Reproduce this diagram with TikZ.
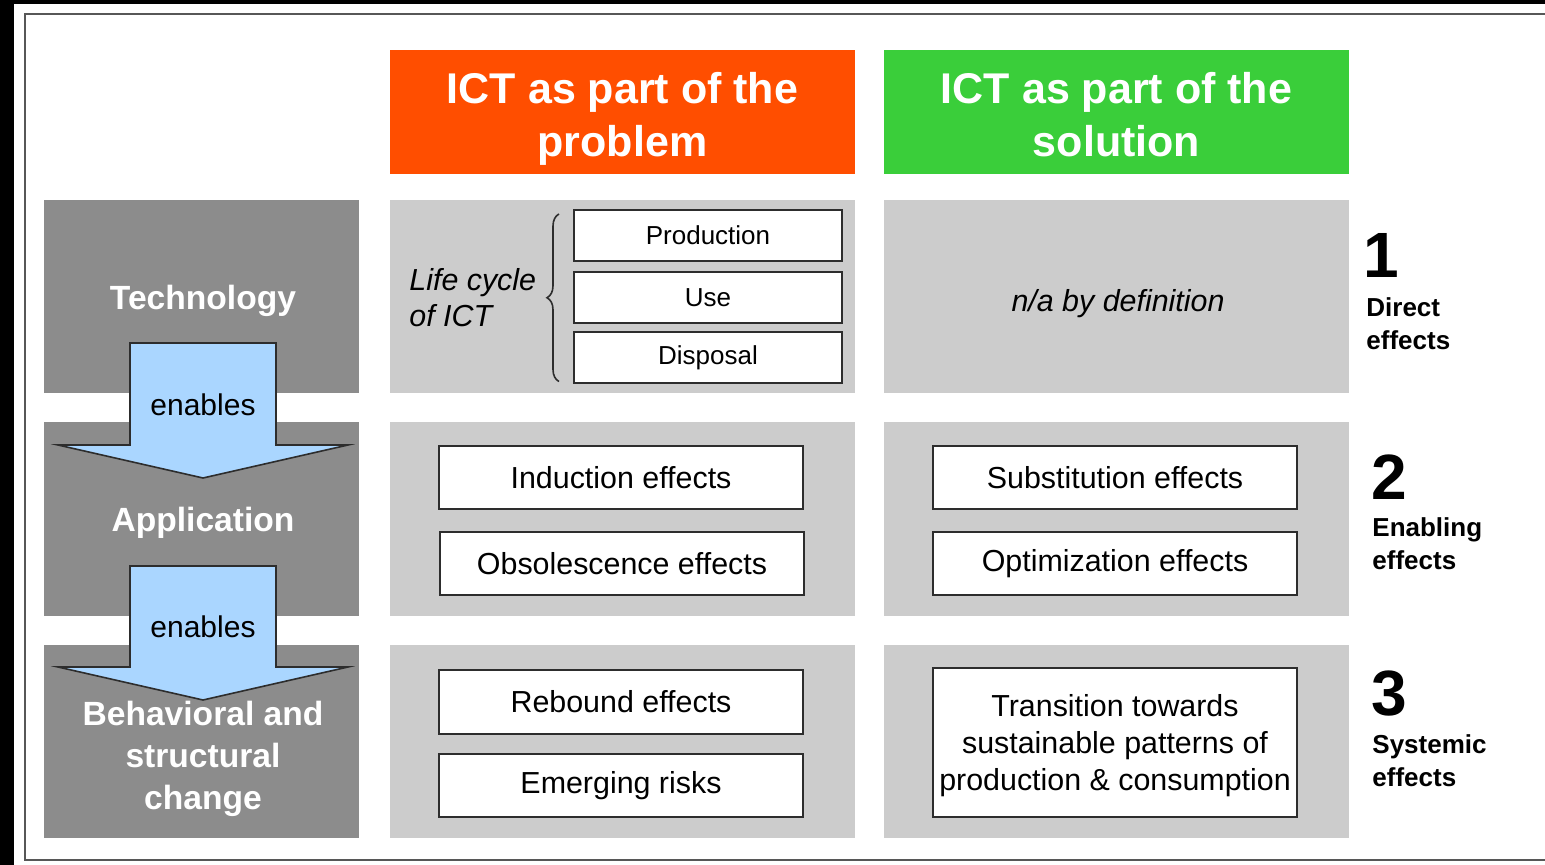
\documentclass[tikz,border=0pt]{standalone}
\usepackage{fontspec}
\setmainfont{Liberation Sans}
\usetikzlibrary{positioning,decorations.pathreplacing}

\definecolor{probred}{RGB}{255,78,0}
\definecolor{solgreen}{RGB}{58,206,58}
\definecolor{layergray}{RGB}{140,140,140}
\definecolor{cellgray}{RGB}{204,204,204}
\definecolor{arrowblue}{RGB}{170,214,255}
\definecolor{lineblack}{RGB}{45,45,45}

\tikzset{
  headbox/.style={minimum width=232.5pt, minimum height=62pt, inner sep=0pt},
  headtext/.style={inner sep=0pt, text=white, align=center,
    font=\fontsize{21.5}{26.5}\selectfont\bfseries,
    execute at begin node=\strut, execute at end node=\strut},
  layerbox/.style={fill=layergray, minimum width=157.5pt, minimum height=96.5pt, inner sep=0pt},
  layertext/.style={text=white, align=center, font=\fontsize{16.8}{21}\selectfont\bfseries},
  cellbox/.style={fill=cellgray, minimum width=232.5pt, minimum height=96.5pt, inner sep=0pt},
  effbox/.style={draw=lineblack, line width=1pt, fill=white, minimum width=182pt,
    minimum height=31.5pt, inner sep=0pt, align=center, font=\fontsize{15.2}{18.5}\selectfont},
  lcbox/.style={draw=lineblack, line width=1pt, fill=white, minimum width=134pt,
    minimum height=25.5pt, inner sep=0pt, font=\fontsize{13}{15}\selectfont},
  numtext/.style={inner sep=0pt, font=\fontsize{32}{36}\selectfont\bfseries},
  kindtext/.style={inner sep=0pt, anchor=north west, align=left,
    font=\fontsize{13}{16.5}\selectfont\bfseries},
  enablearrow/.style={draw=lineblack, line width=0.8pt, fill=arrowblue, line join=miter},
}

\begin{document}
\begin{tikzpicture}[x=0.5pt,y=-0.5pt]
\useasboundingbox (0,0) rectangle (1545,865);
% page and frame
\fill[black] (0,0) rectangle (1545,865);
\fill[white] (14,4) rectangle (1545,865);
\draw[line width=1pt, lineblack!80] (25,14) rectangle (1560,860);

% column heads
\node[headbox, fill=probred] (probhead) at (622.5,112) {};
\node[headtext] (probtext) at (622.5,122) {ICT as part of the\\problem};
\node[headbox, fill=solgreen] (solhead) at (1116.5,112) {};
\node[headtext] (soltext) at (1116.5,122) {ICT as part of the\\solution};

% layers
\node[layerbox] (tech) at (201.5,296.5) {};
\node[layerbox] (appl) at (201.5,519) {};
\node[layerbox] (behav) at (201.5,741.5) {};

% cells
\node[cellbox] (p1) at (622.5,296.5) {};
\node[cellbox] (p2) at (622.5,519) {};
\node[cellbox] (p3) at (622.5,741.5) {};
\node[cellbox] (s1) at (1116.5,296.5) {};
\node[cellbox] (s2) at (1116.5,519) {};
\node[cellbox] (s3) at (1116.5,741.5) {};

% layer labels
\node[layertext] (techtext) at (203,301) {Technology};
\node[layertext] (appltext) at (203,523) {Application};
\node[layertext] (behavtext) at (203,759) {Behavioral and\\structural\\change};

% enables arrows
\draw[enablearrow] (130,343) -- (276,343) -- (276,445) -- (348,445) -- (203,478)
  -- (58,445) -- (130,445) -- cycle;
\node[font=\fontsize{15}{18}\selectfont] (en1) at (203,405) {enables};
\draw[enablearrow] (130,566) -- (276,566) -- (276,667) -- (348,667) -- (203,700)
  -- (58,667) -- (130,667) -- cycle;
\node[font=\fontsize{15}{18}\selectfont] (en2) at (203,627) {enables};

% life cycle
\node[lcbox] (prod) at (708,235.5) {Production};
\node[lcbox] (use) at (708,297.5) {Use};
\node[lcbox] (disp) at (708,358) {Disposal};
\draw[lineblack, line width=0.8pt, decorate, decoration={brace, amplitude=6pt}]
  ([xshift=-7pt,yshift=1.5pt]disp.south west) -- ([xshift=-7pt,yshift=-2.5pt]prod.north west);
\node[anchor=west, align=left, inner sep=0pt, font=\fontsize{15.2}{18}\selectfont\itshape]
  (lctext) at (409,298) {Life cycle\\of ICT};
\node[font=\fontsize{15.2}{18}\selectfont\itshape] (natext) at (1118,304) {n/a by definition};

% effects
\node[effbox] (induct) at (621,477.5) {Induction effects};
\node[effbox] (obsol) at (622,563.5) {Obsolescence effects};
\node[effbox] (subst) at (1115,477.5) {Substitution effects};
\node[effbox] (optim) at (1115,563.5) {Optimization effects};
\node[effbox, minimum height=32pt] (rebound) at (621,702) {Rebound effects};
\node[effbox] (risks) at (621,785.5) {Emerging risks};
\node[effbox, minimum height=74.5pt] (trans) at (1115,742.5) {};
\node[align=center, inner sep=0pt, font=\fontsize{15.2}{18.5}\selectfont] (transtext)
  at (1115,746) {Transition towards\\sustainable patterns of\\production \& consumption};

% effect orders
\node[numtext] (n1) at (1381,255) {1};
\node[kindtext] (k1) at (1366,297) {Direct\\effects};
\node[numtext] (n2) at (1389,477) {2};
\node[kindtext] (k2) at (1372,517) {Enabling\\effects};
\node[numtext] (n3) at (1389,694) {3};
\node[kindtext] (k3) at (1372,734) {Systemic\\effects};
\end{tikzpicture}
\end{document}
